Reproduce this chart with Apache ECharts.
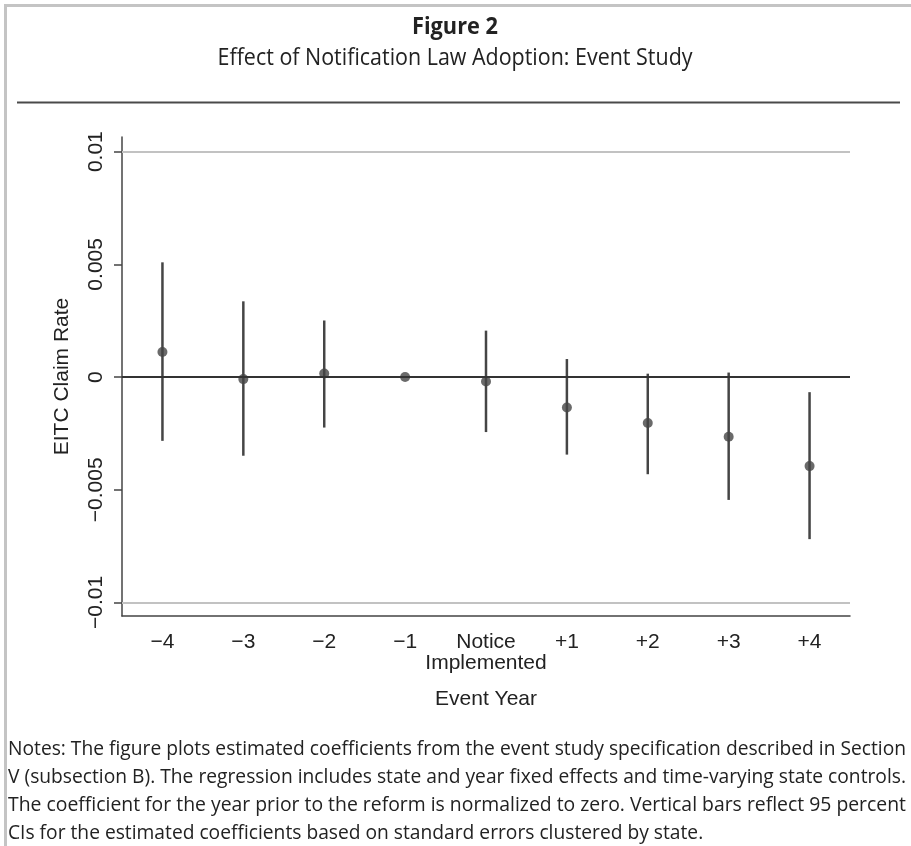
<!DOCTYPE html>
<html lang="en">
<head>
<meta charset="UTF-8">
<title>Figure 2</title>
<script src="https://cdn.jsdelivr.net/npm/echarts@6/dist/echarts.min.js"></script>
<style>
    html, body { margin: 0; padding: 0; background: #fff; }
    #chart { width: 911px; height: 846px; }
</style>
</head>
<body>
<div id="chart"></div>
<script>
    // data
    var categories = ['\u22124', '\u22123', '\u22122', '\u22121', 'Notice\nImplemented', '+1', '+2', '+3', '+4'];
    var coef   = [0.00111, -0.00009, 0.00016, 0, -0.00020, -0.00135, -0.00204, -0.00265, -0.00395];
    var ciLow  = [-0.00283, -0.00349, -0.00224, 0, -0.00244, -0.00344, -0.00431, -0.00545, -0.00719];
    var ciHigh = [0.00509, 0.00336, 0.00251, 0, 0.00206, 0.00080, 0.00015, 0.00020, -0.00067];
    var yTicks = [-0.01, -0.005, 0, 0.005, 0.01];

    var notes = [
        'Notes: The figure plots estimated coefficients from the event study specification described in Section',
        'V (subsection B). The regression includes state and year fixed effects and time-varying state controls.',
        'The coefficient for the year prior to the reform is normalized to zero. Vertical bars reflect 95 percent',
        'CIs for the estimated coefficients based on standard errors clustered by state.'
    ];

    // squeeze text a bit so it looks like the condensed journal font
    var ctx = document.createElement('canvas').getContext('2d');
    function widthOf(txt, font) {
        ctx.font = font;
        return ctx.measureText(txt).width;
    }
    var noteFont = '20px "Open Sans"';
    var noteScale = 898 / widthOf(notes[0], noteFont);
    var subFont = '23px "Open Sans"';
    var subText = 'Effect of Notification Law Adoption: Event Study';
    var subScale = 475 / widthOf(subText, subFont);
    var figFont = 'bold 24px "Open Sans"';
    var figScale = 86 / widthOf('Figure 2', figFont);

    var graphics = [
        { type: 'rect', shape: { x: 4, y: 4, width: 3, height: 842 }, style: { fill: '#c4c4c4' } },
        { type: 'rect', shape: { x: 4, y: 4, width: 907, height: 3 }, style: { fill: '#c4c4c4' } },
        { type: 'line', shape: { x1: 17, y1: 102.5, x2: 900, y2: 102.5 }, style: { stroke: '#4a4a4a', lineWidth: 2 } },
        {
            type: 'text', x: 455, y: 27, scaleX: figScale,
            style: { text: 'Figure 2', font: figFont, fill: '#222', textAlign: 'center', textVerticalAlign: 'middle' }
        },
        {
            type: 'text', x: 455, y: 58, scaleX: subScale,
            style: { text: subText, font: subFont, fill: '#222', textAlign: 'center', textVerticalAlign: 'middle' }
        }
    ];
    notes.forEach(function (line, i) {
        // first three lines are justified to the full width
        var s = i < 3 ? 898 / widthOf(line, noteFont) : noteScale;
        graphics.push({
            type: 'text', x: 8, y: 749 + i * 28, scaleX: s,
            style: { text: line, font: noteFont, fill: '#222', textAlign: 'left', textVerticalAlign: 'middle' }
        });
    });

    var ciData = categories.map(function (c, i) { return [i, ciLow[i], ciHigh[i]]; });

    function fmtTick(v) {
        if (v === 0) return '0';
        return (v < 0 ? '\u2212' : '') + String(Math.abs(v));
    }

    var myChart = echarts.init(document.getElementById('chart'));
    var option = {
        backgroundColor: '#fff',
        animation: false,
        graphic: graphics,
        grid: { left: 122, right: 61, top: 137, bottom: 230 },
        xAxis: {
            type: 'category',
            data: categories,
            boundaryGap: true,
            name: 'Event Year',
            nameLocation: 'middle',
            nameGap: 73,
            nameTextStyle: { fontFamily: 'Liberation Sans', fontSize: 21, color: '#222' },
            axisLine: { onZero: false, lineStyle: { color: '#444', width: 1.5 } },
            axisTick: { alignWithLabel: true, length: 8, lineStyle: { color: '#444', width: 1.5 } },
            axisLabel: { fontFamily: 'Liberation Sans', fontSize: 21, color: '#222', margin: 16, lineHeight: 21, interval: 0 },
            splitLine: { show: false }
        },
        yAxis: {
            type: 'value',
            min: -0.0106,
            max: 0.01065,
            name: 'EITC Claim Rate',
            nameLocation: 'middle',
            nameGap: 49,
            nameTextStyle: { fontFamily: 'Liberation Sans', fontSize: 21, color: '#222' },
            axisLine: { show: true, lineStyle: { color: '#444', width: 1.5 } },
            axisTick: { show: true, length: 8, customValues: yTicks, lineStyle: { color: '#444', width: 1.5 } },
            axisLabel: {
                rotate: 90, margin: 15, customValues: yTicks,
                fontFamily: 'Liberation Sans', fontSize: 21, color: '#222',
                formatter: fmtTick
            },
            splitLine: { show: false }
        },
        series: [
            {
                // grid lines and the zero line
                type: 'line',
                data: [],
                markLine: {
                    silent: true,
                    symbol: ['none', 'none'],
                    label: { show: false },
                    data: yTicks.map(function (v) {
                        return {
                            yAxis: v,
                            lineStyle: v === 0 ? { color: '#333', width: 2, type: 'solid' } : { color: '#c2c2c2', width: 2, type: 'solid' }
                        };
                    })
                }
            },
            {
                type: 'custom',
                data: ciData,
                renderItem: function (params, api) {
                    var lo = api.coord([api.value(0), api.value(1)]);
                    var hi = api.coord([api.value(0), api.value(2)]);
                    return {
                        type: 'line',
                        shape: { x1: lo[0], y1: lo[1], x2: hi[0], y2: hi[1] },
                        style: { stroke: '#454545', lineWidth: 2.5 }
                    };
                },
                z: 3
            },
            {
                type: 'scatter',
                data: coef,
                symbol: 'circle',
                symbolSize: 10,
                itemStyle: { color: '#454545' },
                z: 4
            }
        ]
    };
    myChart.setOption(option);
</script>
</body>
</html>
